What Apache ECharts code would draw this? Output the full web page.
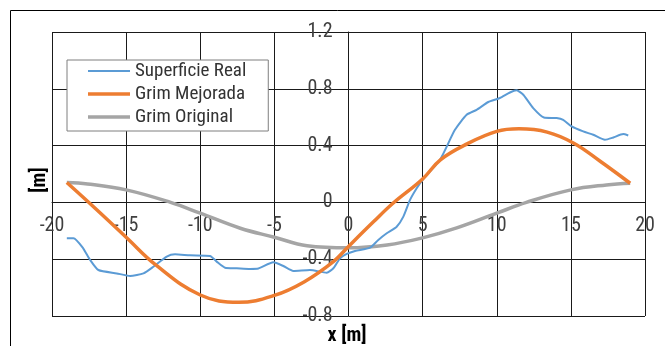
<!DOCTYPE html>
<html>
<head>
<meta charset="utf-8">
<script src="https://cdn.jsdelivr.net/npm/echarts@6/dist/echarts.min.js"></script>
<style>
html,body{margin:0;padding:0;background:#fff;}
#chart{width:665px;height:346px;}
</style>
</head>
<body>
<div id="chart"></div>
<script>
const seriesNames = ['Superficie Real', 'Grim Mejorada', 'Grim Original'];

const realX = [-19.0, -18.55, -17.9, -17.43, -16.87, -15.63, -14.73, -13.83, -13.16, -12.26, -11.7, -10.69, -9.34, -8.89, -8.33, -7.54, -6.64, -6.08, -5.07, -4.4, -3.72, -2.6, -1.47, -1.02, -0.57, -0.12, 0.44, 1.45, 2.01, 2.58, 3.25, 3.7, 4.15, 4.6, 5.0, 6.17, 7.18, 7.97, 8.64, 9.43, 10.21, 10.89, 11.34, 11.79, 12.46, 13.18, 14.04, 14.48, 15.05, 15.83, 16.51, 17.3, 17.86, 18.53, 18.87];
const realY = [-0.253, -0.253, -0.323, -0.405, -0.476, -0.50, -0.518, -0.50, -0.453, -0.382, -0.366, -0.373, -0.377, -0.417, -0.46, -0.464, -0.469, -0.466, -0.422, -0.448, -0.483, -0.476, -0.495, -0.464, -0.394, -0.363, -0.342, -0.319, -0.264, -0.217, -0.171, -0.10, 0.018, 0.10, 0.159, 0.30, 0.511, 0.617, 0.652, 0.707, 0.735, 0.774, 0.789, 0.758, 0.664, 0.598, 0.594, 0.582, 0.535, 0.50, 0.476, 0.441, 0.457, 0.481, 0.471];

const mejX = [-19, -17, -15, -13, -10, -7.4, -5, -3, -1, 0, 1.7, 3, 5, 6.2, 8, 10, 11.5, 13.4, 15.2, 17, 19];
const mejY = [0.14, -0.05, -0.245, -0.44, -0.652, -0.704, -0.655, -0.56, -0.415, -0.31, -0.135, -0.006, 0.165, 0.30, 0.412, 0.50, 0.518, 0.495, 0.417, 0.288, 0.135];

const origX = [-19, -17.6, -15, -12, -10, -7.3, -5, -2.8, 0, 2.6, 5, 7.3, 10, 12, 15, 17.4, 19];
const origY = [0.14, 0.13, 0.088, 0.0, -0.076, -0.182, -0.245, -0.305, -0.32, -0.30, -0.25, -0.18, -0.076, 0.0, 0.088, 0.123, 0.135];

const xMin = -20, xMax = 20, xStep = 5;
const yMin = -0.8, yMax = 1.2, yStep = 0.4;

const FONT = "'Roboto Condensed', 'DejaVu Sans Condensed', sans-serif";
const pairs = (xs, ys) => xs.map((x, i) => [x, ys[i]]);

const G = {left: 52, right: 20, top: 32, bottom: 30};
const W = 665, H = 346;
const gw = W - G.left - G.right, gh = H - G.top - G.bottom;
// move axis lines (with labels) to the zero crossings
const xAxisOffset = -(gh * (0 - yMin) / (yMax - yMin));
const yAxisOffset = -(gw * (0 - xMin) / (xMax - xMin));

const chart = echarts.init(document.getElementById('chart'), null, {renderer: 'canvas'});
chart.setOption({
  animation: false,
  backgroundColor: '#ffffff',
  grid: {left: G.left, right: G.right, top: G.top, bottom: G.bottom, containLabel: false},
  xAxis: {
    type: 'value', min: xMin, max: xMax, interval: xStep, position: 'bottom', offset: xAxisOffset,
    axisLine: {show: true, onZero: false, lineStyle: {color: '#1a1a1a', width: 1}},
    axisTick: {show: false},
    axisLabel: {margin: 14, color: '#404040', fontFamily: FONT, fontSize: 20},
    splitLine: {show: true, lineStyle: {color: '#1a1a1a', width: 1}}
  },
  yAxis: {
    type: 'value', min: yMin, max: yMax, interval: yStep, position: 'left', offset: yAxisOffset,
    axisLine: {show: true, onZero: false, lineStyle: {color: '#1a1a1a', width: 1}},
    axisTick: {show: false},
    axisLabel: {margin: 16, color: '#404040', fontFamily: FONT, fontSize: 20,
      formatter: v => (Math.abs(v) < 1e-9 ? '0' : v.toFixed(1))},
    splitLine: {show: true, lineStyle: {color: '#1a1a1a', width: 1}}
  },
  legend: {
    show: true,
    data: [
      {name: seriesNames[0], icon: 'path://M0,0 L42,0 L42,2 L0,2 Z'},
      {name: seriesNames[1], icon: 'path://M0,0 L42,0 L42,3.5 L0,3.5 Z'},
      {name: seriesNames[2], icon: 'path://M0,0 L42,0 L42,3.5 L0,3.5 Z'}
    ],
    orient: 'vertical',
    left: 67, top: 60,
    padding: [1, 22, 4, 21],
    itemWidth: 42, itemHeight: 4, itemGap: 3,
    backgroundColor: '#ffffff',
    borderColor: '#7f7f7f', borderWidth: 1,
    textStyle: {fontFamily: FONT, fontSize: 19, color: '#333333', lineHeight: 20}
  },
  series: [
    {name: seriesNames[0], type: 'line', data: pairs(realX, realY), symbol: 'none', smooth: 0.2,
     color: '#5b9bd5', lineStyle: {color: '#5b9bd5', width: 2}, z: 3},
    {name: seriesNames[1], type: 'line', data: pairs(mejX, mejY), symbol: 'none', smooth: 0.4,
     color: '#ed7d31', lineStyle: {color: '#ed7d31', width: 3.5}, z: 4},
    {name: seriesNames[2], type: 'line', data: pairs(origX, origY), symbol: 'none', smooth: 0.4,
     color: '#a5a5a5', lineStyle: {color: '#a5a5a5', width: 3.5}, z: 2}
  ],
  graphic: [
    {type: 'line', shape: {x1: 10.5, y1: 10.5, x2: 665, y2: 10.5}, style: {stroke: '#000', lineWidth: 1}, silent: true},
    {type: 'line', shape: {x1: 10.5, y1: 10.5, x2: 10.5, y2: 346}, style: {stroke: '#000', lineWidth: 1}, silent: true},
    {type: 'text', x: 40, y: 180, rotation: Math.PI / 2,
     style: {text: '[m]', font: 'bold 20px ' + FONT, fill: '#000', align: 'center', verticalAlign: 'middle'}},
    {type: 'text', x: 347, y: 336,
     style: {text: 'x [m]', font: 'bold 20px ' + FONT, fill: '#000', align: 'center', verticalAlign: 'middle'}}
  ]
});
</script>
</body>
</html>
